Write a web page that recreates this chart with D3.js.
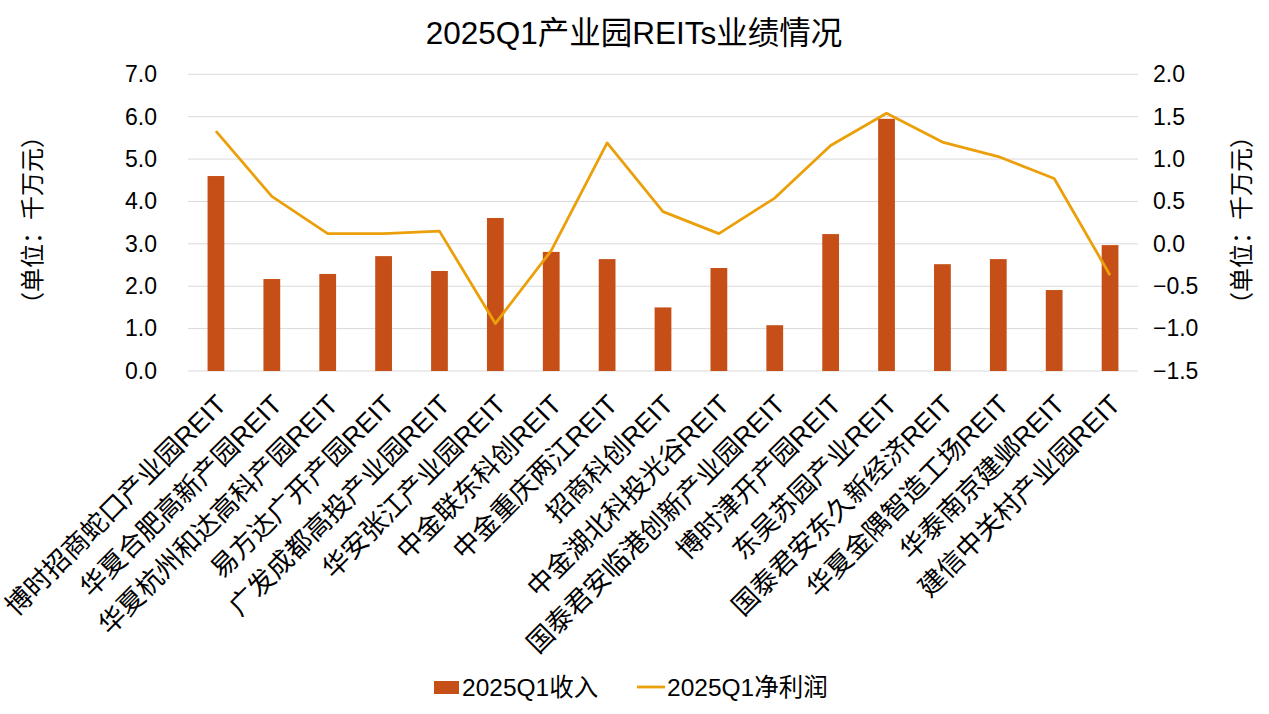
<!DOCTYPE html>
<html><head><meta charset="utf-8">
<script src="https://cdn.jsdelivr.net/npm/d3@7"></script>
<style>body{margin:0;background:#fff}svg{display:block}text{font-family:"Liberation Sans","Noto Sans CJK SC",Arial,sans-serif;fill:#000}</style>
</head><body><svg id="c" width="1269" height="714"></svg>
<script>
const categories = ["博时招商蛇口产业园REIT","华夏合肥高新产园REIT","华夏杭州和达高科产园REIT","易方达广开产园REIT","广发成都高投产业园REIT","华安张江产业园REIT","中金联东科创REIT","中金重庆两江REIT","招商科创REIT","中金湖北科投光谷REIT","国泰君安临港创新产业园REIT","博时津开产园REIT","东吴苏园产业REIT","国泰君安东久新经济REIT","华夏金隅智造工场REIT","华泰南京建邺REIT","建信中关村产业园REIT"];
const revenue = [4.60,2.17,2.29,2.71,2.36,3.61,2.81,2.64,1.50,2.43,1.08,3.23,5.95,2.52,2.64,1.91,2.97];
const profit = [1.33,0.56,0.12,0.12,0.15,-0.94,-0.08,1.19,0.38,0.12,0.54,1.16,1.54,1.20,1.03,0.77,-0.37];
const leftTicks = [0,1,2,3,4,5,6,7];
const rightTicks = [-1.5,-1.0,-0.5,0,0.5,1.0,1.5,2.0];
const title = "2025Q1产业园REITs业绩情况";
const seriesNames = ["2025Q1收入","2025Q1净利润"];
const axisTitle = "（单位：千万元）";

const svg = d3.select("#c");
const m = {l:188, r:1138, t:74.3, b:371};
const x = d3.scaleBand().domain(categories).range([m.l, m.r]).paddingInner(0.7).paddingOuter(0.35);
const yL = d3.scaleLinear().domain([0,7]).range([m.b, m.t]);
const yR = d3.scaleLinear().domain([-1.5,2]).range([m.b, m.t]);
const barColor = "#C54F17", lineColor = "#EBA00B";

// gridlines
svg.append("g").selectAll("line").data(leftTicks).join("line")
  .attr("x1", m.l).attr("x2", m.r).attr("y1", d=>yL(d)).attr("y2", d=>yL(d))
  .attr("stroke", "#D9D9D9").attr("stroke-width", 1);

// left axis
const gl = svg.append("g").attr("transform", `translate(${m.l},0)`)
  .call(d3.axisLeft(yL).tickValues(leftTicks).tickFormat(d3.format(".1f")).tickSize(0).tickPadding(31));
gl.select(".domain").remove();
gl.selectAll("text").attr("font-size", 23).style("font-family", "Liberation Sans, Arial, sans-serif");

// right axis
const gr = svg.append("g").attr("transform", `translate(${m.r},0)`)
  .call(d3.axisRight(yR).tickValues(rightTicks).tickFormat(d3.format(".1f")).tickSize(0).tickPadding(15));
gr.select(".domain").remove();
gr.selectAll("text").attr("font-size", 23).style("font-family", "Liberation Sans, Arial, sans-serif");

// bars
svg.append("g").selectAll("rect").data(revenue).join("rect")
  .attr("x", (d,i)=>x(categories[i])).attr("width", x.bandwidth())
  .attr("y", d=>yL(d)).attr("height", d=>yL(0)-yL(d)).attr("fill", barColor);

// line
const line = d3.line().x((d,i)=>x(categories[i])+x.bandwidth()/2).y(d=>yR(d));
svg.append("path").datum(profit).attr("d", line).attr("fill","none")
  .attr("stroke", lineColor).attr("stroke-width", 2.8).attr("stroke-linejoin","round");

// category labels
svg.append("g").selectAll("text").data(categories).join("text")
  .attr("transform", d=>`translate(${x(d)+x.bandwidth()/2+12},${m.b+35}) rotate(-45)`)
  .attr("text-anchor","end").attr("font-size", 26.5).text(d=>d);

// title
svg.append("text").attr("x", 634).attr("y", 44).attr("text-anchor","middle").attr("font-size", 31.5).text(title);

// axis titles
svg.append("text").attr("transform", `translate(41,220) rotate(-90)`).attr("text-anchor","middle").attr("font-size", 24).text(axisTitle);
svg.append("text").attr("transform", `translate(1250,220) rotate(-90)`).attr("text-anchor","middle").attr("font-size", 24).text(axisTitle);

// legend
const lg = svg.append("g");
lg.append("rect").attr("x", 434).attr("y", 681).attr("width", 25).attr("height", 13).attr("fill", barColor);
lg.append("text").attr("x", 462).attr("y", 696).attr("font-size", 24.5).text(seriesNames[0]);
lg.append("line").attr("x1", 637).attr("x2", 665).attr("y1", 687).attr("y2", 687).attr("stroke", lineColor).attr("stroke-width", 2.8);
lg.append("text").attr("x", 667).attr("y", 696).attr("font-size", 24.5).text(seriesNames[1]);
</script></body></html>
